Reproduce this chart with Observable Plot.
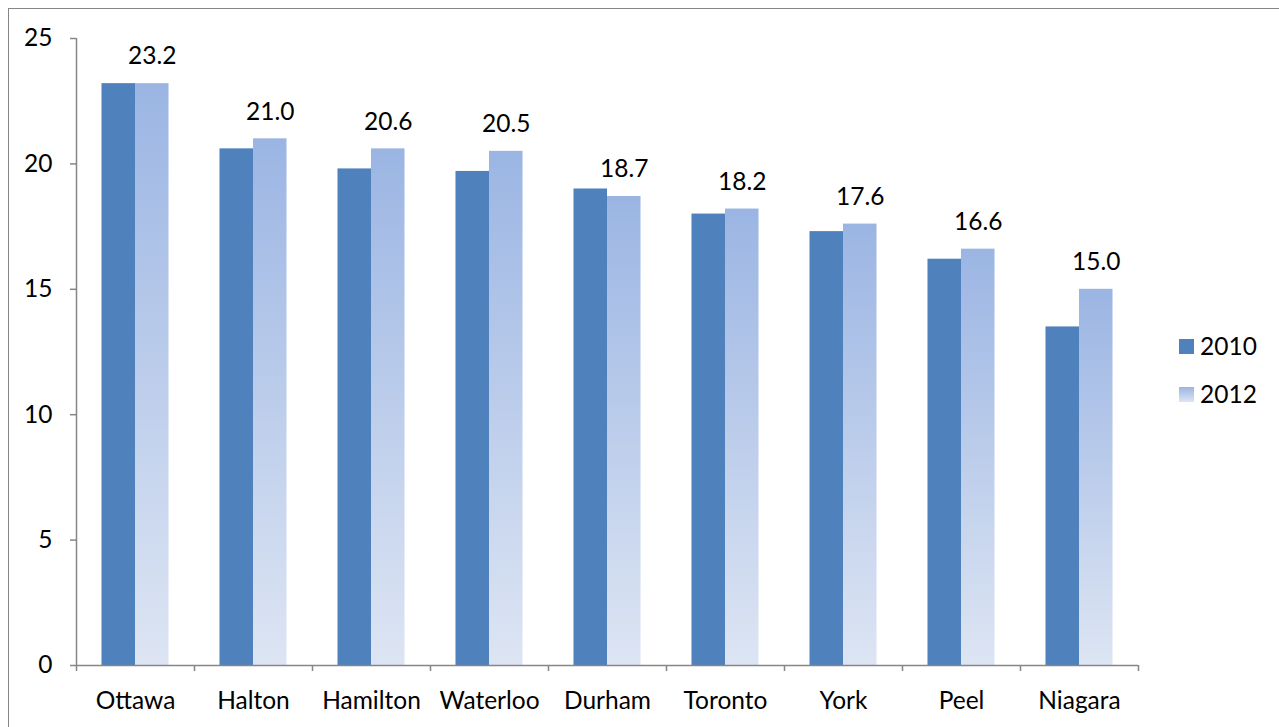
<!DOCTYPE html>
<html>
<head>
<meta charset="utf-8">
<script src="https://cdn.jsdelivr.net/npm/d3@7"></script>
<script src="https://cdn.jsdelivr.net/npm/@observablehq/plot@0.6"></script>
<style>
  html, body { margin: 0; padding: 0; background: #fff; }
  #wrap { position: relative; width: 1279px; height: 727px; overflow: hidden; font-family: Lato, "Open Sans", sans-serif; }
  #frame { position: absolute; left: 8px; top: 8px; width: 1300px; height: 800px; border-left: 1.5px solid #868686; border-top: 1.5px solid #868686; }
  #chart { position: absolute; left: 0; top: 0; }
  .leg { position: absolute; left: 1179px; font-size: 24.5px; line-height: 30px; color: #000; display: flex; align-items: center; }
  .sw { width: 15px; height: 15px; margin-right: 6px; }
</style>
</head>
<body>
<div id="wrap">
  <div id="frame"></div>
  <div id="chart"></div>
  <div class="leg" style="top:331px"><div class="sw" style="background:#4F81BD"></div>2010</div>
  <div class="leg" style="top:379px"><div class="sw" style="background:linear-gradient(#9BB5E3,#DDE5F3)"></div>2012</div>
</div>
<script>
const regions = ["Ottawa", "Halton", "Hamilton", "Waterloo", "Durham", "Toronto", "York", "Peel", "Niagara"];
const values2010 = [23.2, 20.6, 19.8, 19.7, 19.0, 18.0, 17.3, 16.2, 13.5];
const values2012 = [23.2, 21.0, 20.6, 20.5, 18.7, 18.2, 17.6, 16.6, 15.0];
const yTicks = [0, 5, 10, 15, 20, 25];

const d2010 = regions.map((r, i) => ({region: r, value: values2010[i]}));
const d2012 = regions.map((r, i) => ({region: r, value: values2012[i]}));

const W = 1279, H = 727;
const mL = 76, mR = 141, mT = 38, mB = 62;
const step = (W - mL - mR) / regions.length;
const gap = step * 0.216;
const bw = (step - 2 * gap) / 2;
const axisColor = "#868686";
const fs = 24.5;

const plot = Plot.plot({
  width: W,
  height: H,
  marginLeft: mL,
  marginRight: mR,
  marginTop: mT,
  marginBottom: mB,
  style: {fontFamily: "Lato, 'Open Sans', sans-serif", fontSize: fs + "px", color: "#000", background: "transparent"},
  x: {domain: regions, padding: 0, label: null},
  y: {domain: [0, 25], label: null},
  marks: [
    Plot.barY(d2010, {x: "region", y: "value", fill: "#4F81BD", insetLeft: gap, insetRight: step - gap - bw}),
    Plot.barY(d2012, {x: "region", y: "value", fill: "url(#g2012)", insetLeft: gap + bw, insetRight: gap}),
    Plot.text(d2012, {x: "region", y: "value", text: d => d.value.toFixed(1), dx: bw / 2, dy: -27, fontSize: fs, fill: "#000", lineAnchor: "middle"}),
    Plot.ruleY([0], {stroke: axisColor, strokeWidth: 1.5}),
    Plot.ruleX([regions[0]], {dx: -step / 2, y1: 0, y2: 25, stroke: axisColor, strokeWidth: 1.5}),
    Plot.ruleX(regions, {dx: -step / 2, y1: 0, y2: -0.24, stroke: axisColor, strokeWidth: 1.5}),
    Plot.ruleX([regions[regions.length - 1]], {dx: step / 2, y1: 0, y2: -0.24, stroke: axisColor, strokeWidth: 1.5}),
    Plot.axisY({ticks: yTicks, tickSize: 6, tickPadding: 18, stroke: axisColor, strokeWidth: 1.5, fill: "#000", fontSize: fs, label: null}),
    Plot.axisX({tickSize: 0, tickPadding: 26, fill: "#000", fontSize: fs, label: null})
  ]
});

const defs = d3.select(plot).insert("defs", ":first-child");
const lg = defs.append("linearGradient").attr("id", "g2012").attr("x1", 0).attr("y1", 0).attr("x2", 0).attr("y2", 1);
lg.append("stop").attr("offset", "0%").attr("stop-color", "#9BB5E3");
lg.append("stop").attr("offset", "100%").attr("stop-color", "#DDE5F3");

document.getElementById("chart").appendChild(plot);
</script>
</body>
</html>
